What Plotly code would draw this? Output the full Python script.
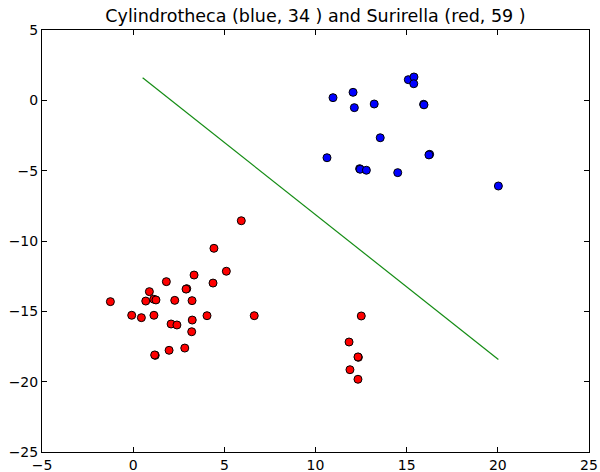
import plotly.graph_objects as go

blue_x = [15.09, 15.40, 15.39, 10.96, 12.06, 12.13, 13.22, 15.93, 15.95, 13.55, 10.63, 16.26, 16.22, 12.42, 12.45, 12.79, 14.51, 20.03]
blue_y = [1.47, 1.66, 1.18, 0.19, 0.57, -0.52, -0.26, -0.28, -0.32, -2.66, -4.08, -3.84, -3.88, -4.86, -4.90, -4.97, -5.14, -6.09]

red_x = [5.93, 4.43, 5.11, 3.34, 1.82, 4.38, 2.94, 2.90, 0.89, -1.25, 0.69, 1.13, 1.25, 2.28, 3.23,
         -0.08, 0.45, 1.14, 4.05, 6.64, 2.08, 2.40, 3.24, 3.21, 2.83, 1.97, 1.21, 1.18,
         12.51, 11.84, 12.35, 12.33, 11.89, 12.33]
red_y = [-8.56, -10.52, -12.15, -12.42, -12.89, -12.99, -13.39, -13.42, -13.60, -14.31, -14.27, -14.14, -14.19, -14.22, -14.24,
         -15.28, -15.45, -15.28, -15.31, -15.31, -15.90, -15.97, -15.62, -16.45, -17.61, -17.77, -18.13, -18.10,
         -15.33, -17.18, -18.27, -18.24, -19.15, -19.83]

line_x = [0.52, 20.03]
line_y = [1.60, -18.42]

title_text = "Cylindrotheca (blue, 34 ) and Surirella (red, 59 )"

fig = go.Figure()
fig.add_trace(go.Scatter(x=line_x, y=line_y, mode="lines",
                         line=dict(color="rgb(20,140,20)", width=1.2), showlegend=False))
fig.add_trace(go.Scatter(x=blue_x, y=blue_y, mode="markers",
                         marker=dict(color="#0000ff", size=8, line=dict(color="black", width=1)),
                         showlegend=False))
fig.add_trace(go.Scatter(x=red_x, y=red_y, mode="markers",
                         marker=dict(color="#ff0000", size=8, line=dict(color="black", width=1)),
                         showlegend=False))

axis_common = dict(showgrid=False, zeroline=False, showline=True, linecolor="black", linewidth=1,
                   mirror="allticks", ticks="inside", ticklen=5, tickcolor="black", tickwidth=1,
                   automargin=False,
                   tickfont=dict(family="DejaVu Sans", size=14, color="black"))

fig.update_xaxes(range=[-5, 25], tickvals=[-5, 0, 5, 10, 15, 20, 25], **axis_common)
fig.update_yaxes(range=[-25, 5], tickvals=[-25, -20, -15, -10, -5, 0, 5], **axis_common)

fig.update_layout(
    width=600, height=472,
    margin=dict(l=42, r=11, t=30, b=20, autoexpand=False),
    paper_bgcolor="white", plot_bgcolor="white",
    title=dict(text=title_text, x=0.5, xref="paper", xanchor="center",
               y=0.966, yref="container", yanchor="middle",
               font=dict(family="DejaVu Sans", size=17.5, color="black")),
)

fig.write_html("out.html")
